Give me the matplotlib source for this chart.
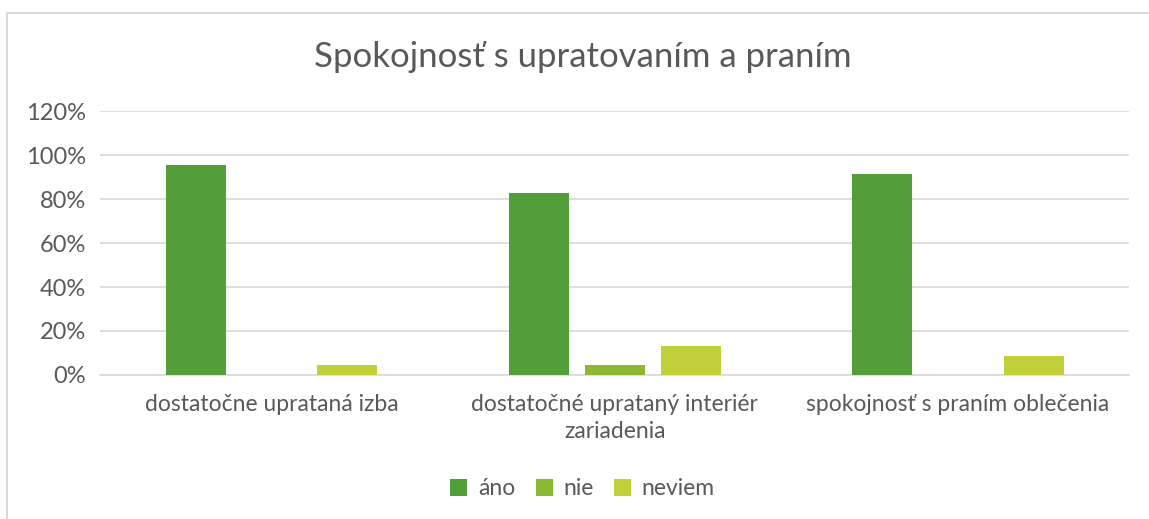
import numpy as np
import matplotlib.pyplot as plt
from matplotlib.ticker import PercentFormatter

categories = ['dostatočne uprataná izba',
              'dostatočné uprataný interiér\nzariadenia',
              'spokojnosť s praním oblečenia']
series_names = ['áno', 'nie', 'neviem']
ano = [95.65, 82.6, 91.3]
nie = [0.0, 4.35, 0.0]
neviem = [4.35, 13.0, 8.7]
colors = ['#549E39', '#8AB833', '#C0CF3A']
title = 'Spokojnosť s upratovaním a praním'

plt.rcParams['font.family'] = ['Lato', 'DejaVu Sans']
text_color = '#595959'

fig = plt.figure(figsize=(11.49, 5.19), dpi=100)
ax = fig.add_axes([0.087, 0.2775, 0.896, 0.5085])

x = np.arange(len(categories))
step = 0.221
width = 0.175
for i, (vals, name) in enumerate(zip([ano, nie, neviem], series_names)):
    ax.bar(x + (i - 1) * step, vals, width, color=colors[i], label=name, zorder=3)

ax.set_xlim(-0.5, len(categories) - 0.5)
ax.set_ylim(0, 120)
ax.set_yticks(np.arange(0, 121, 20))
ax.yaxis.set_major_formatter(PercentFormatter(decimals=0))
ax.grid(axis='y', color='#D9D9D9', lw=1.2, zorder=0)
for s in ['top', 'right', 'left']:
    ax.spines[s].set_visible(False)
ax.spines['bottom'].set_color('#D9D9D9')
ax.spines['bottom'].set_linewidth(1.2)
ax.tick_params(axis='y', length=0, labelsize=17, colors=text_color, pad=10)
ax.tick_params(axis='x', length=0, labelsize=16.5, colors=text_color, pad=14)
ax.set_xticks(x)
ax.set_xticklabels(categories, linespacing=1.35)

fig.text(0.507, 0.89, title, ha='center', va='center', fontsize=25, color=text_color)

ax.legend(loc='center', bbox_to_anchor=(0.507, 0.058), bbox_transform=fig.transFigure,
          ncol=3, frameon=False, fontsize=16.5, labelcolor=text_color,
          handlelength=0.75, handleheight=0.75, handletextpad=0.45, columnspacing=0.9)

# chart border (left and top)
fig.add_artist(plt.Line2D([0.0061, 0.0061], [0, 0.975], transform=fig.transFigure,
                          color='#D9D9D9', lw=1.5))
fig.add_artist(plt.Line2D([0.0061, 1.0], [0.975, 0.975], transform=fig.transFigure,
                          color='#D9D9D9', lw=1.5))

fig.savefig('out.png', dpi=100)
